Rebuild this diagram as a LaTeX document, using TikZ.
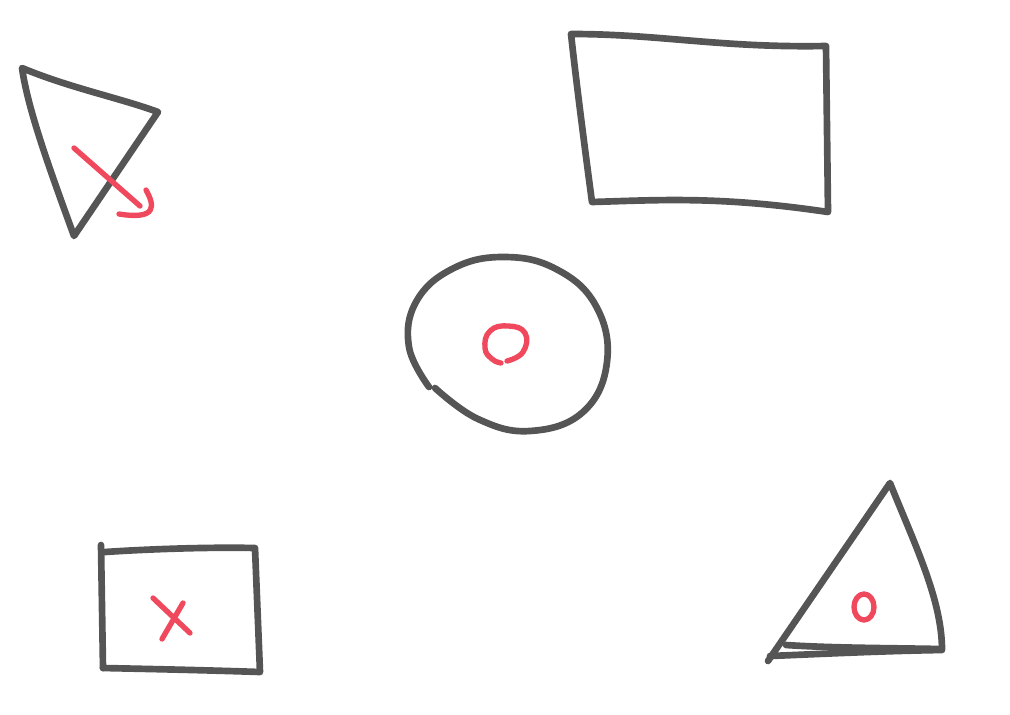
\documentclass[tikz,border=0pt]{standalone}
\usepackage{tikz}
\usepackage{xcolor}
\definecolor{pengray}{RGB}{85,85,85}
\definecolor{penred}{RGB}{240,72,92}

\begin{document}
\begin{tikzpicture}[x=0.75pt, y=-0.75pt,
    sketch/.style={draw=pengray, line width=5pt, line cap=round, line join=round},
    redpen/.style={draw=penred, line width=4pt, line cap=round, line join=round}]
    %Bildbereich
    \useasboundingbox (0,0) rectangle (1010,714);
    % Dreieck oben links
    \draw[sketch] (22,68) .. controls (70,88) and (120,98) .. (158,112)
        -- (74,236) .. controls (50,170) and (28,110) .. cycle;
    % roter Pfeil
    \draw[redpen] (74,148) -- (140,206);
    \draw[redpen] (146,190) .. controls (155,206) and (157,220) .. (119,214);
    % Rechteck oben rechts
    \draw[sketch] (571,34) .. controls (660,34) and (720,48) .. (826,46)
        -- (828,212) .. controls (720,196) and (660,200) .. (592,202)
        .. controls (585,150) and (576,80) .. cycle;
    % Kreis in der Mitte
    \draw[sketch] plot[smooth, tension=0.7] coordinates {(435,388) (478,419) (530,431)
        (583,412) (607,362) (596,306) (556,269) (503,257) (452,269) (416,302) (409,347) (429,387)};
    \draw[redpen] plot[smooth, tension=0.8] coordinates {(507,361) (523,352) (525,333)
        (508,326) (490,331) (485,348) (492,359) (501,363)};
    % Rechteck unten links
    \draw[sketch] (101,545) -- (103,668);
    \draw[sketch] (105,552) .. controls (150,549) and (210,547) .. (255,548)
        -- (260,672) .. controls (200,670) and (150,669) .. (103,668);
    % rotes Kreuz
    \draw[redpen] (153,598) -- (190,633);
    \draw[redpen] (183,603) -- (162,639);
    % Dreieck unten rechts
    \draw[sketch] (768,661) -- (890,483) .. controls (915,545) and (942,600) .. (942,650)
        .. controls (880,651) and (820,654) .. (770,656);
    \draw[sketch] (786,645) .. controls (830,648) and (890,648) .. (940,649);
    \draw[redpen] (864,607) ellipse [x radius=10, y radius=13];
\end{tikzpicture}
\end{document}
